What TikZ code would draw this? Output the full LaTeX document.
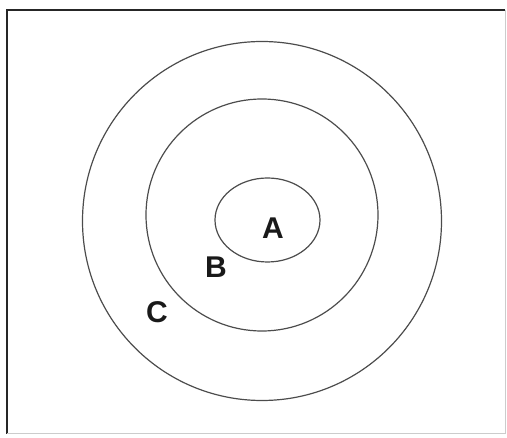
\documentclass[tikz,border=0pt]{standalone}
\usepackage{fontspec}
\setmainfont{Liberation Sans}
\begin{document}
\begin{tikzpicture}[x=1pt,y=-1pt,
  ring/.style={draw=black!70,line width=1.2pt},
  lbl/.style={font=\fontsize{30}{32}\selectfont\bfseries,inner sep=0pt,text=black!90}]
\useasboundingbox (0,0) rectangle (507,438);
\draw[black!85,line width=2pt] (505,10) -- (7,10) -- (7,434);
\draw[black!20,line width=1pt] (505,10) -- (505,434) -- (7,434);
\draw[ring] (262,221) circle (179.5);
\draw[ring] (262,215) circle (116);
\draw[ring] (267.5,220) ellipse (52.5 and 42);
\node[lbl] (A) at (273,228) {A};
\node[lbl] (B) at (216,267) {B};
\node[lbl] (C) at (157,312) {C};
\end{tikzpicture}
\end{document}
